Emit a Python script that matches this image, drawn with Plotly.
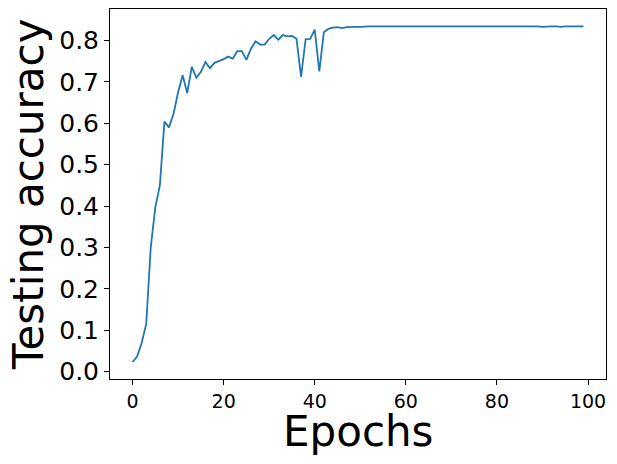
import plotly.graph_objects as go

epochs = list(range(100))
accuracy = [
    0.023, 0.036, 0.069, 0.115, 0.300, 0.397, 0.450, 0.604, 0.590, 0.623,
    0.675, 0.716, 0.673, 0.736, 0.710, 0.724, 0.748, 0.733, 0.746, 0.750,
    0.755, 0.761, 0.756, 0.774, 0.774, 0.753, 0.780, 0.798, 0.790, 0.790,
    0.804, 0.813, 0.802, 0.813, 0.810, 0.811, 0.804, 0.712, 0.803, 0.804,
    0.826, 0.725, 0.820, 0.828, 0.831, 0.832, 0.830, 0.832, 0.833, 0.833,
    0.833, 0.834, 0.834, 0.834, 0.834, 0.834, 0.834, 0.834, 0.834, 0.835,
    0.835, 0.835, 0.835, 0.835, 0.834, 0.835, 0.835, 0.835, 0.834, 0.835,
    0.835, 0.835, 0.835, 0.835, 0.835, 0.835, 0.835, 0.834, 0.834, 0.834,
    0.834, 0.834, 0.834, 0.834, 0.834, 0.834, 0.834, 0.834, 0.834, 0.834,
    0.833, 0.834, 0.834, 0.834, 0.833, 0.834, 0.834, 0.834, 0.834, 0.834,
]
x_ticks = [0, 20, 40, 60, 80, 100]
y_ticks = [0.0, 0.1, 0.2, 0.3, 0.4, 0.5, 0.6, 0.7, 0.8]
y_tick_text = [f"{v:.1f}" for v in y_ticks]

fig = go.Figure()
fig.add_trace(go.Scatter(x=epochs, y=accuracy, mode="lines",
                         line=dict(color="#1f77b4", width=1.8)))

font = "DejaVu Sans"
# page body has an 8px default margin, so the figure is 8px smaller
fig.update_layout(
    width=609, height=456,
    margin=dict(l=102, r=11, t=1, b=85),
    paper_bgcolor="white", plot_bgcolor="white",
    showlegend=False,
    font=dict(family=font, color="black"),
    annotations=[
        dict(text="Epochs", xref="paper", yref="paper", x=0.5, y=0,
             xanchor="center", yanchor="middle", yshift=-52, showarrow=False,
             font=dict(size=42, family=font, color="black")),
        dict(text="Testing accuracy", xref="paper", yref="paper", x=0, y=0.5,
             xanchor="center", yanchor="middle", xshift=-82, showarrow=False,
             textangle=-90, font=dict(size=42, family=font, color="black")),
    ],
)
fig.update_xaxes(
    range=[-4.95, 103.95], tickvals=x_ticks, ticks="outside", ticklen=5,
    tickwidth=1, tickcolor="black", tickfont=dict(size=19, family=font),
    showgrid=False, zeroline=False, showline=True, linecolor="black",
    linewidth=1, mirror=True, automargin=False,
)
fig.update_yaxes(
    range=[-0.018, 0.876], tickvals=y_ticks, ticktext=y_tick_text,
    ticks="outside", ticklen=5, tickwidth=1, tickcolor="black",
    tickfont=dict(size=25, family=font),
    showgrid=False, zeroline=False, showline=True, linecolor="black",
    linewidth=1, mirror=True, automargin=False,
)
fig.write_html("out.html")
